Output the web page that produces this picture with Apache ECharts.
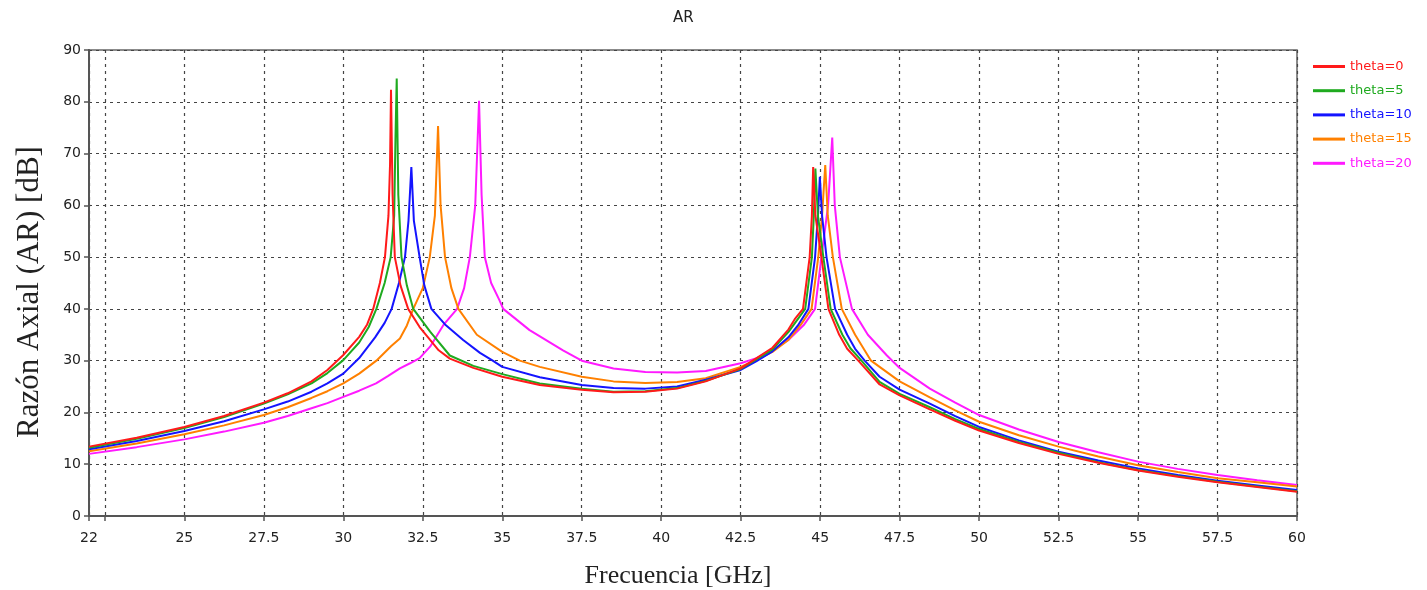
<!DOCTYPE html>
<html>
<head>
<meta charset="utf-8">
<script src="https://cdn.jsdelivr.net/npm/echarts@6/dist/echarts.min.js"></script>
<style>html,body{margin:0;padding:0;background:#fff;}#c{width:1427px;height:590px;}</style>
</head>
<body>
<div id="c"></div>
<script>
// ---- data ----
const seriesNames = ['theta=0', 'theta=5', 'theta=10', 'theta=15', 'theta=20'];
const xLabelValues = [22, 25, 27.5, 30, 32.5, 35, 37.5, 40, 42.5, 45, 47.5, 50, 52.5, 55, 57.5, 60];
const xTickValues = [22, 22.5, 25, 27.5, 30, 32.5, 35, 37.5, 40, 42.5, 45, 47.5, 50, 52.5, 55, 57.5, 60];

const freq0 = [22, 23.5, 25, 26.25, 27.5, 28.25, 29, 29.5, 30, 30.5, 30.75, 30.94, 31.15, 31.31, 31.42, 31.47, 31.5, 31.55, 31.62, 31.8, 32.04, 32.4, 32.73, 33.0, 33.35, 34.09, 35, 36.18, 37.5, 38.5, 39.5, 40.5, 41.4, 42.5, 43, 43.5, 44, 44.2, 44.46, 44.67, 44.74, 44.78, 44.85, 45.04, 45.26, 45.6, 45.85, 46.2, 46.87, 47.5, 48.45, 49.25, 50, 51.25, 52.5, 53.75, 55, 56.25, 57.5, 58.75, 60];
const ar0   = [13.4, 15.1, 17.2, 19.3, 21.9, 23.7, 26.0, 28.2, 31.1, 34.6, 37, 40, 45, 50, 58, 68, 82.3, 62, 50, 44.5, 40, 36.5, 34, 32.0, 30.4, 28.6, 26.9, 25.3, 24.4, 23.9, 24.0, 24.6, 26.0, 28.5, 30.5, 32.5, 36, 38, 40, 50, 58, 67.4, 58, 50, 40, 35, 32.3, 30, 25.4, 23.3, 20.6, 18.4, 16.5, 14.1, 12.0, 10.3, 8.8, 7.6, 6.5, 5.6, 4.7];

const freq5 = [22, 23.5, 25, 26.25, 27.5, 28.25, 29, 29.5, 30, 30.5, 30.8, 31.04, 31.3, 31.49, 31.6, 31.64, 31.68, 31.73, 31.83, 32.0, 32.2, 32.73, 33.35, 34.09, 35, 36.18, 37.5, 38.5, 39.5, 40.5, 41.4, 42.5, 43, 43.5, 44, 44.53, 44.74, 44.8, 44.85, 44.93, 45.1, 45.33, 45.7, 45.95, 46.3, 46.87, 47.5, 48.45, 49.25, 50, 51.25, 52.5, 53.75, 55, 56.25, 57.5, 58.75, 60];
const ar5   = [13.2, 14.9, 17.0, 19.1, 21.7, 23.5, 25.6, 27.6, 30.1, 33.5, 36.5, 40, 45, 50, 58, 72.7, 84.5, 62, 50, 44.5, 40, 35.6, 31.0, 29.0, 27.4, 25.6, 24.6, 24.0, 24.1, 24.7, 26.1, 28.4, 30.3, 32.2, 35.5, 40, 50, 58, 67.1, 58, 50, 40, 35, 32.4, 30, 25.9, 23.6, 21.0, 18.7, 16.8, 14.3, 12.2, 10.4, 8.9, 7.7, 6.6, 5.7, 4.8];

const freq10 = [22, 23.5, 25, 26.25, 27.5, 28.25, 29, 29.5, 30, 30.5, 31, 31.3, 31.52, 31.75, 31.94, 32.05, 32.14, 32.22, 32.4, 32.55, 32.77, 33.2, 33.77, 34.3, 34.7, 35, 36.18, 37.5, 38.5, 39.5, 40.5, 41.4, 42.5, 43, 43.5, 44, 44.3, 44.63, 44.84, 44.93, 44.99, 45.06, 45.2, 45.47, 45.85, 46.1, 46.4, 46.87, 47.5, 48.45, 49.25, 50, 51.25, 52.5, 53.75, 55, 56.25, 57.5, 58.75, 60];
const ar10   = [12.9, 14.5, 16.4, 18.3, 20.6, 22.1, 24.0, 25.6, 27.5, 30.5, 34.5, 37.3, 40, 45, 50, 57, 67.4, 57, 50, 44.5, 40, 37, 34, 31.5, 30, 28.8, 26.8, 25.3, 24.7, 24.6, 25.0, 26.3, 28.2, 29.9, 31.8, 34.5, 36.8, 40, 50, 58, 65.5, 58, 50, 40, 35, 32.3, 30, 26.9, 24.4, 21.7, 19.3, 17.2, 14.6, 12.4, 10.7, 9.2, 7.9, 6.8, 5.9, 5.0];

const freq15 = [22, 23.5, 25, 26.25, 27.5, 28.25, 29, 29.5, 30, 30.5, 31.04, 31.5, 31.78, 32.0, 32.2, 32.5, 32.72, 32.88, 32.98, 33.06, 33.2, 33.4, 33.62, 34.2, 35, 35.55, 36.18, 37.5, 38.5, 39.5, 40.5, 41.4, 42.5, 43, 43.5, 44, 44.4, 44.73, 44.94, 45.06, 45.16, 45.24, 45.4, 45.68, 46.1, 46.6, 46.87, 47.5, 48.45, 49.25, 50, 51.25, 52.5, 53.75, 55, 56.25, 57.5, 58.75, 60];
const ar15   = [12.5, 14.0, 15.8, 17.5, 19.5, 21.0, 22.8, 24.1, 25.6, 27.5, 30, 32.8, 34.3, 36.8, 40, 44, 50, 58, 75.3, 60, 50, 44, 40, 35, 31.7, 30, 28.8, 26.9, 26.0, 25.7, 25.9, 26.6, 28.8, 30.2, 31.7, 34, 37, 40, 50, 58, 67.8, 58, 50, 40, 35, 30, 28.8, 26.0, 22.9, 20.4, 18.2, 15.6, 13.4, 11.5, 9.8, 8.5, 7.3, 6.5, 5.7];

const freq20 = [22, 23.5, 25, 26.25, 27.5, 28.25, 29, 29.5, 30, 30.5, 31.03, 31.4, 31.78, 32.1, 32.4, 32.73, 33.15, 33.58, 33.8, 33.98, 34.15, 34.27, 34.35, 34.45, 34.65, 34.91, 35.03, 35.86, 36.91, 37.5, 38.5, 39.5, 40.5, 41.4, 42.5, 43, 43.5, 44, 44.5, 44.84, 45.04, 45.25, 45.38, 45.46, 45.62, 46.0, 46.5, 47.1, 47.5, 48.45, 49.25, 50, 51.25, 52.5, 53.75, 55, 56.25, 57.5, 58.75, 60];
const ar20   = [12.0, 13.3, 14.8, 16.3, 18.0, 19.3, 20.8, 21.8, 23.0, 24.2, 25.6, 27.0, 28.5, 29.5, 30.5, 32.7, 36.9, 40, 44, 50, 60, 80.2, 62, 50, 45, 41.7, 40, 35.9, 32, 30, 28.5, 27.8, 27.7, 28.0, 29.5, 30.5, 32, 34, 37, 40, 50, 60, 73.1, 60, 50, 40, 35, 31, 28.6, 24.6, 21.9, 19.5, 16.7, 14.3, 12.3, 10.5, 9.1, 7.9, 6.9, 6.0];

const colors = ['#ff1a1a', '#1faa1f', '#1414ff', '#ff8000', '#ff1aff'];
// ---------------------------------------

const freqs = [freq0, freq5, freq10, freq15, freq20];
const ars = [ar0, ar5, ar10, ar15, ar20];
const zip = (xs, ys) => xs.map((x, i) => [x, ys[i]]);

const chart = echarts.init(document.getElementById('c'), null, {renderer: 'canvas'});
const labelFont = 'DejaVu Sans';
const serif = 'Liberation Serif';

chart.setOption({
  animation: false,
  backgroundColor: '#ffffff',
  title: {
    text: 'AR',
    left: 668, top: 6,
    textStyle: {fontFamily: labelFont, fontSize: 15, fontWeight: 'normal', color: '#222'}
  },
  legend: {
    orient: 'vertical',
    left: 1308, top: 55,
    icon: 'rect',
    itemWidth: 32, itemHeight: 3, itemGap: 11.2,
    data: seriesNames.map((n, i) => ({name: n, textStyle: {color: colors[i]}})),
    textStyle: {fontFamily: labelFont, fontSize: 13},
  },
  grid: {
    left: 89, right: 130, top: 50, bottom: 74,
    outerBoundsMode: 'none', containLabel: false,
    show: true, borderColor: '#666', borderWidth: 1.5, backgroundColor: '#fff'
  },
  xAxis: {
    type: 'value', min: 22, max: 60,
    name: 'Frecuencia [GHz]', nameLocation: 'middle', nameGap: 47,
    nameTextStyle: {fontFamily: serif, fontSize: 26, color: '#222', padding: [0, 30, 0, 0]},
    axisLine: {show: true, onZero: false, lineStyle: {color: '#555', width: 2}},
    axisTick: {show: true, length: 5, customValues: xTickValues, lineStyle: {color: '#555', width: 1.5}},
    axisLabel: {customValues: xLabelValues, fontFamily: labelFont, fontSize: 14, color: '#222', margin: 15},
    splitLine: {show: true, lineStyle: {color: '#444', type: [3, 4], width: 1.2}}
  },
  yAxis: {
    type: 'value', min: 0, max: 90, interval: 10,
    name: 'Razón Axial (AR) [dB]', nameLocation: 'middle', nameGap: 44,
    nameTextStyle: {fontFamily: serif, fontSize: 31, color: '#222', padding: [0, 18, 0, 0]},
    axisLine: {show: true, lineStyle: {color: '#555', width: 2}},
    axisTick: {show: true, length: 5, lineStyle: {color: '#555', width: 1.5}},
    axisLabel: {fontFamily: labelFont, fontSize: 14, color: '#222', margin: 8},
    splitLine: {show: true, lineStyle: {color: '#444', type: [3, 4], width: 1.2}}
  },
  series: seriesNames.map((n, i) => ({
    name: n, type: 'line', data: zip(freqs[i], ars[i]),
    symbol: 'none', smooth: false,
    lineStyle: {color: colors[i], width: 2},
    itemStyle: {color: colors[i]},
    z: 2 + (4 - i)
  }))
});
</script>
</body>
</html>
